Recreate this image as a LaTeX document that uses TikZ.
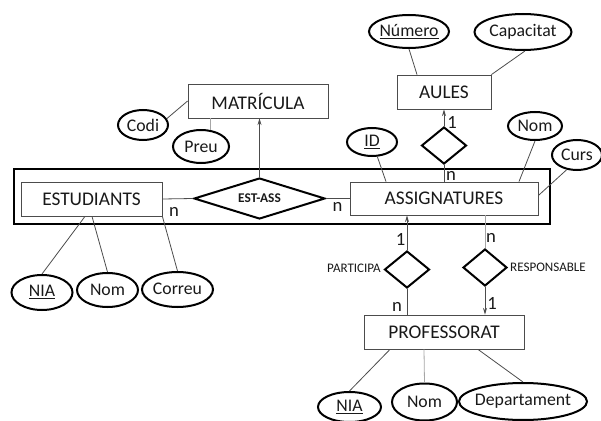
\documentclass[tikz,border=0pt]{standalone}
\usepackage{fontspec}
\setmainfont{Carlito}
\usetikzlibrary{shapes.geometric,arrows.meta,calc}
\newcommand\zw[1]{\makebox[0pt]{#1}}
\newcommand\zwr[2]{\makebox[0pt]{\raisebox{#1}{#2}}}
\begin{document}
\begin{tikzpicture}[x=0.75pt,y=-0.75pt,
 ent/.style={draw=black!70, line width=0.6pt, rectangle, inner sep=0, text=black!90, font=\fontsize{14.5}{16}\selectfont},
 attr/.style={draw=black, line width=1.5pt, ellipse, inner sep=0, text=black!90, font=\fontsize{13.3}{15}\selectfont},
 rel/.style={draw=black, line width=1.5pt, diamond, inner sep=0},
 link/.style={draw=black!70, line width=0.6pt},
 lightlink/.style={draw=black!35, line width=0.6pt},
 arr/.style={link, -{Stealth[length=5pt,width=3pt]}},
 card/.style={font=\fontsize{14}{16}\selectfont, inner sep=0, text=black!90},
 rlab/.style={font=\fontsize{9.8}{11}\selectfont, inner sep=0, text=black!90}
]
\useasboundingbox (0,0) rectangle (601,421);

% aggregation
\node[draw=black, line width=1.5pt, rectangle, minimum width=402pt, minimum height=41.25pt, inner sep=0] (agg) at (282,196.5) {};

% entities
\node[ent, minimum width=105.75pt, minimum height=25.5pt] (estud) at (91.5,199) {ESTUDIANTS};
\node[ent, minimum width=141pt, minimum height=24.75pt] (assig) at (444,198.5) {ASSIGNATURES};
\node[ent, minimum width=105pt, minimum height=25.5pt] (matr) at (258,101) {MATRÍCULA};
\node[ent, minimum width=70.5pt, minimum height=25.5pt] (aules) at (444,92) {AULES};
\node[ent, minimum width=120pt, minimum height=25.5pt] (prof) at (444,332) {PROFESSORAT};

% relationships
\node[rel, aspect=3.2, minimum width=98.25pt, minimum height=30.75pt, font=\fontsize{10}{12}\bfseries\selectfont, text=black!90] (estass) at (259.5,198.5) {\zw{EST-ASS}};
\node[rel, minimum width=33.75pt, minimum height=27.75pt] (dia1) at (444,145.5) {};
\node[rel, minimum width=33.75pt, minimum height=27.75pt] (dia2) at (407,269.5) {};
\node[rel, minimum width=33pt, minimum height=27.75pt] (dia3) at (485,267.5) {};

% attributes
\node[attr, minimum width=37.5pt, minimum height=22.5pt] (codi) at (143,125) {\zw{Codi}};
\node[attr, minimum width=42pt, minimum height=24.75pt] (preu) at (201,146.5) {\zw{Preu}};
\node[attr, minimum width=60pt, minimum height=24.75pt] (nume) at (409,31.5) {\zw{\underline{Número}}};
\node[attr, minimum width=72.75pt, minimum height=27pt] (capa) at (523,32) {\zw{Capacitat}};
\node[attr, minimum width=37.5pt, minimum height=21pt] (id) at (372,142) {\zw{\underline{ID}}};
\node[attr, minimum width=40.5pt, minimum height=21pt] (nom2) at (535,126) {\zw{Nom}};
\node[attr, minimum width=37.5pt, minimum height=22.5pt] (curs) at (577,155) {\zw{Curs}};
\node[attr, minimum width=45.75pt, minimum height=26.25pt] (nia1) at (42,292.5) {\zwr{-1.5pt}{\underline{NIA}}};
\node[attr, minimum width=45.75pt, minimum height=25.5pt] (nom1) at (107.5,290) {\zwr{-1pt}{Nom}};
\node[attr, minimum width=53.25pt, minimum height=26.25pt] (corr) at (177.5,289.5) {\zwr{1.5pt}{Correu}};
\node[attr, minimum width=47.25pt, minimum height=22.5pt] (nia2) at (349.5,407) {\zwr{-1pt}{\underline{NIA}}};
\node[attr, minimum width=48.75pt, minimum height=27.75pt] (nom3) at (424.5,402) {\zw{Nom}};
\node[attr, minimum width=96pt, minimum height=27.75pt] (dep) at (523,401.5) {\zwr{1pt}{Departament}};

% connectors
\draw[link] (codi.15) -- (matr.west);
\draw[lightlink] (preu.60) -- (preu.60 |- matr.south);
\draw[arr] (estass.north) -- (estass.north |- matr.south);
\draw[link] (estud.east) -- (estass.west);
\draw[link] (estass.east) -- (assig.west);
\draw[link] ([shift={(-6.5,0)}]estud.south) -- (nia1.north);
\draw[link] ([shift={(0.5,0)}]estud.south) -- (nom1.north);
\draw[link] (estud.south east) -- (corr.north);
\draw[link] (nume.south) -- ([shift={(-27,0)}]aules.north);
\draw[link] (capa.276) -- (aules.north east);
\draw[arr] (dia1.north) -- (aules.south);
\draw[link] (dia1.south) -- (assig.north);
\draw[link] (id.290) -- ([shift={(-58,0)}]assig.north);
\draw[link] (nom2.south) -- ([shift={(75,0)}]assig.north);
\draw[link] (curs.235) -- ([shift={(0,-3)}]assig.east);
\draw[arr] (dia2.north) -- (dia2.north |- assig.south);
\draw[link] (dia2.south) -- (dia2.south |- prof.north);
\draw[lightlink] (dia3.north |- assig.south) -- (dia3.north);
\draw[arr] (dia3.south) -- (dia3.south |- prof.north);
\draw[link] ([shift={(-54,0)}]prof.south) -- (nia2.north);
\draw[lightlink] ([shift={(-20,0)}]prof.south) -- (nom3.north);
\draw[link] ([shift={(34,0)}]prof.south) -- (dep.north);

% cardinalities
\node[card] (c1) at (174,212) {n};
\node[card] (c2) at (337.5,207) {n};
\node[card] (c3) at (452,122) {1};
\node[card] (c4) at (451,176) {n};
\node[card] (c5) at (400.5,239) {1};
\node[card] (c6) at (491,238) {n};
\node[card] (c7) at (397,307) {n};
\node[card] (c8) at (492,303) {1};

% relationship labels
\node[rlab] (lpart) at (354,268) {PARTICIPA};
\node[rlab] (lresp) at (548,267.5) {RESPONSABLE};
\end{tikzpicture}
\end{document}
